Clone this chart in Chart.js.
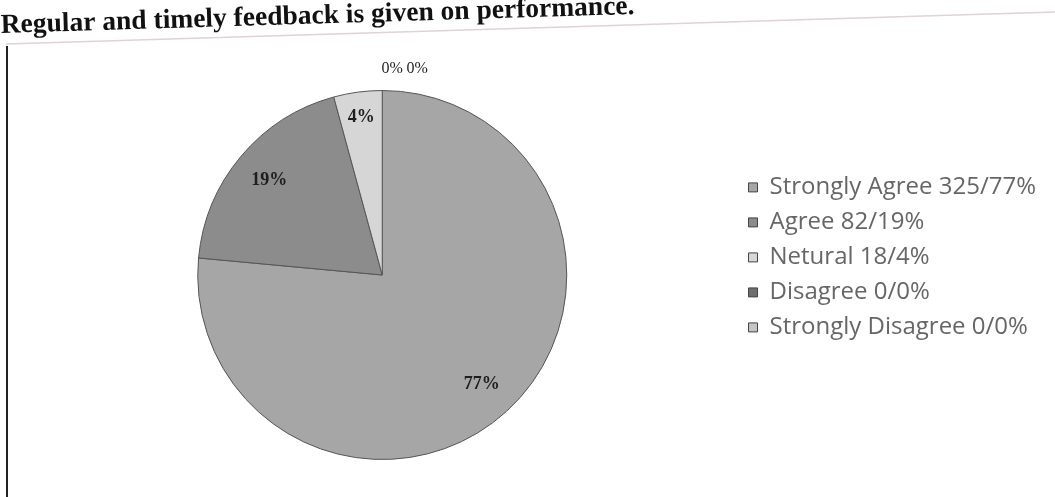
<!DOCTYPE html>
<html>
<head>
<meta charset="utf-8">
<script src="https://cdn.jsdelivr.net/npm/chart.js@4/dist/chart.umd.min.js"></script>
<style>
  html, body { margin: 0; padding: 0; background: #fff; }
  #wrap { width: 1055px; height: 497px; }
</style>
</head>
<body>
<div id="wrap"><canvas id="chart"></canvas></div>
<script>
var categories = ["Strongly Agree", "Agree", "Netural", "Disagree", "Strongly Disagree"];
var counts = [325, 82, 18, 0, 0];
var percents = [77, 19, 4, 0, 0];
var colors = ['#a6a6a6', '#8c8c8c', '#d6d6d6', '#6e6e6e', '#c4c4c4'];
var titleText = 'Regular and timely feedback is given on performance.';

// title and frame lines of the photographed page (slightly tilted)
var framePlugin = {
    id: 'frame',
    beforeDraw: function (chart) {
        var ctx = chart.ctx;
        ctx.save();
        ctx.translate(0, 33);
        ctx.rotate(-0.03);
        ctx.fillStyle = '#111';
        ctx.font = 'bold 27.5px "Liberation Serif"';
        ctx.textBaseline = 'alphabetic';
        ctx.fillText(titleText, 1, 0);
        ctx.restore();

        ctx.save();
        ctx.strokeStyle = '#e0d2d6';
        ctx.lineWidth = 1.5;
        ctx.beginPath();
        ctx.moveTo(6, 44);
        ctx.lineTo(1055, 12);
        ctx.stroke();
        ctx.strokeStyle = '#222';
        ctx.lineWidth = 2;
        ctx.beginPath();
        ctx.moveTo(7, 46);
        ctx.lineTo(7, 497);
        ctx.stroke();
        ctx.restore();
    }
};

// percent labels on the slices, zero slices stacked above the pie
var sliceLabels = {
    id: 'sliceLabels',
    afterDatasetsDraw: function (chart) {
        var ctx = chart.ctx;
        var meta = chart.getDatasetMeta(0);
        var zeros = 0;
        ctx.save();
        ctx.fillStyle = '#1e1e1e';
        ctx.textAlign = 'center';
        ctx.textBaseline = 'middle';
        meta.data.forEach(function (arc, i) {
            var p = arc.getProps(['x', 'y', 'startAngle', 'endAngle', 'outerRadius'], true);
            var mid = (p.startAngle + p.endAngle) / 2;
            var text = percents[i] + '%';
            if (counts[i] === 0) {
                var r0 = p.outerRadius + 22;
                ctx.font = '16px "Liberation Serif"';
                ctx.fillText(text, p.x + Math.cos(mid) * r0 + 10 + zeros * 25, p.y + Math.sin(mid) * r0);
                zeros++;
            } else {
                var r = p.outerRadius * ((p.endAngle - p.startAngle) < 0.4 ? 0.86 : 0.8);
                ctx.font = 'bold 18px "Liberation Serif"';
                ctx.fillText(text, p.x + Math.cos(mid) * r, p.y + Math.sin(mid) * r);
            }
        });
        ctx.restore();
    }
};

var ctx = document.getElementById('chart').getContext('2d');

var chart = new Chart(ctx, {
    type: 'pie',
    data: {
        labels: categories,
        datasets: [{
            data: counts,
            backgroundColor: colors,
            borderColor: '#555',
            borderWidth: 1
        }]
    },
    options: {
        responsive: true,
        maintainAspectRatio: false,
        animation: false,
        layout: { padding: { left: 27, right: 9, top: 90, bottom: 37 } },
        plugins: {
            title: { display: false },
            legend: {
                position: 'right',
                align: 'start',
                title: { display: true, text: ' ', padding: { top: 60, bottom: 0 } },
                labels: {
                    color: '#111',
                    font: { family: '"Open Sans"', size: 24 },
                    boxWidth: 9,
                    boxHeight: 9,
                    padding: 11,
                    generateLabels: function (chart) {
                        return categories.map(function (c, i) {
                            return {
                                text: c + ' ' + counts[i] + '/' + percents[i] + '%',
                                fillStyle: colors[i],
                                strokeStyle: '#444',
                                lineWidth: 1,
                                index: i
                            };
                        });
                    }
                }
            },
            tooltip: { enabled: false }
        }
    },
    plugins: [framePlugin, sliceLabels]
});
</script>
</body>
</html>
